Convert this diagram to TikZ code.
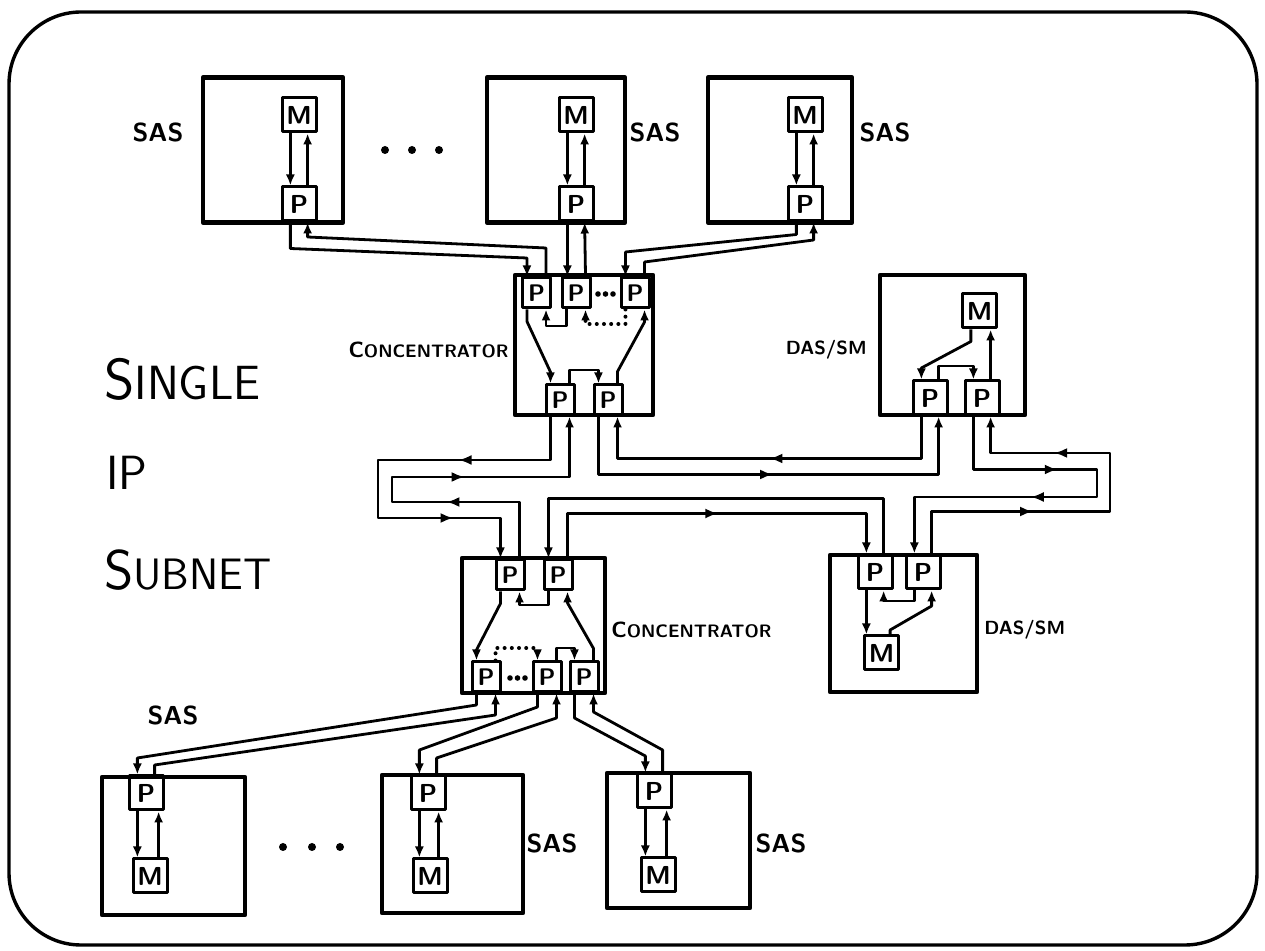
\documentclass[tikz,border=0pt]{standalone}
\usetikzlibrary{arrows.meta,decorations.markings}

\newcommand{\conclabel}{{\fontsize{11}{11}\selectfont C}{\fontsize{9}{9}\selectfont ONCENTRATOR}}

\begin{document}
\begin{tikzpicture}[x=0.5pt, y=-0.5pt, line join=round,
    stationbox/.style={draw=inkColour, line width=2.3pt, inner sep=0pt},
    unit/.style={draw=inkColour, line width=1.5pt, inner sep=0pt, minimum width=17pt, minimum height=17pt, font=\fontsize{13}{13}\selectfont\sffamily\bfseries},
    port/.style={unit, minimum width=14pt, minimum height=15pt, font=\fontsize{12}{12}\selectfont\sffamily\bfseries},
    tag/.style={inner sep=1pt, font=\fontsize{13}{13}\selectfont\sffamily\bfseries},
    bigtext/.style={inner sep=0pt, anchor=base west, font=\sffamily},
    link/.style={draw=inkColour, line width=1.4pt, -{Latex[length=5.5pt,width=4.5pt]}},
    dotlink/.style={link, line cap=round, dash pattern=on 0pt off 3.6pt, line width=2pt},
    midarrow/.style={postaction={decorate, decoration={markings, mark=at position #1 with {\arrow{Latex[length=6.5pt,width=5pt]}}}}}]

    % Define colours
    \definecolor{inkColour}{HTML}{000000}

    % Fix the picture size
    \useasboundingbox (0,0) rectangle (1265,951);

    % Draw outer frame
    \draw[inkColour, line width=1.7pt, rounded corners=36pt] (9,12) rectangle (1257,945);

    % Single IP subnet title
    \node[bigtext] (title1) at (104,400) {{\fontsize{29}{29}\selectfont S}{\fontsize{24}{24}\selectfont INGLE}};
    \node[bigtext] (title2) at (106,490) {\fontsize{24}{24}\selectfont IP};
    \node[bigtext] (title3) at (104,590) {{\fontsize{28}{28}\selectfont S}{\fontsize{22}{22}\selectfont UBNET}};

    % Top stations
    \node[stationbox, minimum width=70pt, minimum height=72.5pt] (sasA) at (273,150) {};
    \node[stationbox, minimum width=69pt, minimum height=72.5pt] (sasB) at (556,150) {};
    \node[stationbox, minimum width=72pt, minimum height=72.5pt] (sasC) at (780,150) {};
    \node[unit] (mA) at (299,115) {M};
    \node[unit] (pA) at (299,204) {P};
    \node[unit] (mB) at (576,115) {M};
    \node[unit] (pB) at (576,204) {P};
    \node[unit] (mC) at (805,115) {M};
    \node[unit] (pC) at (805,204) {P};
    \node[tag] (tA) at (158,132) {SAS};
    \node[tag] (tB) at (655,132) {SAS};
    \node[tag] (tC) at (885,132) {SAS};
    \foreach \x in {385,412,439}
        \fill[inkColour] (\x,150) circle[radius=2pt];

    % Top concentrator
    \node[stationbox, minimum width=69pt, minimum height=70pt] (conA) at (584,345) {};
    \node[port] (c1) at (536.5,293) {P};
    \node[port] (c2) at (576,293) {P};
    \node[port] (c3) at (635,293) {P};
    \node[port] (c4) at (560,400) {P};
    \node[port] (c5) at (608,400) {P};
    \foreach \x in {598,605.5,613}
        \fill[inkColour] (\x,294) circle[radius=1.4pt];
    \node[tag, anchor=east] (tConA) at (511,350) {\conclabel};

    % Top dual attached station
    \node[stationbox, minimum width=72.5pt, minimum height=70pt] (dasA) at (952.5,345) {};
    \node[unit] (mG) at (979.5,311) {M};
    \node[unit] (d1) at (930,398) {P};
    \node[unit] (d2) at (982,398) {P};
    \node[tag, anchor=east, font=\fontsize{9.5}{9.5}\selectfont\sffamily\bfseries] (tDasA) at (869,350) {DAS/SM};

    % Lower concentrator
    \node[stationbox, minimum width=71.5pt, minimum height=67.5pt] (conB) at (533.5,625.5) {};
    \node[port] (c6) at (510,575) {P};
    \node[port] (c7) at (558,575) {P};
    \node[port] (c8) at (486,677) {P};
    \node[port] (c9) at (547,677) {P};
    \node[port] (c10) at (584,677) {P};
    \foreach \x in {510,517.5,525}
        \fill[inkColour] (\x,678) circle[radius=1.4pt];
    \node[tag, anchor=west] (tConB) at (609,630) {\conclabel};

    % Lower dual attached station
    \node[stationbox, minimum width=73.5pt, minimum height=68.5pt] (dasB) at (903.5,623.5) {};
    \node[unit] (e1) at (875,572) {P};
    \node[unit] (e2) at (923,572) {P};
    \node[unit] (mH) at (881.5,653) {M};
    \node[tag, anchor=west, font=\fontsize{9.5}{9.5}\selectfont\sffamily\bfseries] (tDasB) at (982,630) {DAS/SM};

    % Bottom stations
    \node[stationbox, minimum width=71.5pt, minimum height=69pt] (sasD) at (173.5,846) {};
    \node[stationbox, minimum width=70.5pt, minimum height=69pt] (sasE) at (452.5,844) {};
    \node[stationbox, minimum width=71.5pt, minimum height=67.5pt] (sasF) at (678.5,840.5) {};
    \node[unit] (pD) at (146,793) {P};
    \node[unit] (mD) at (150,876) {M};
    \node[unit] (pE) at (428,793) {P};
    \node[unit] (mE) at (430,876) {M};
    \node[unit] (pF) at (654,791) {P};
    \node[unit] (mF) at (658,875) {M};
    \node[tag] (tD) at (173,715) {SAS};
    \node[tag] (tE) at (552,843) {SAS};
    \node[tag] (tF) at (781,843) {SAS};
    \foreach \x in {283,312,340}
        \fill[inkColour] (\x,847) circle[radius=2pt];

    % Links inside the single attached stations
    \foreach \s in {A,B,C} {
        \draw[link] (m\s.-115) -- (m\s.-115 |- p\s.north);
        \draw[link] (p\s.65) -- (p\s.65 |- m\s.south);
    }
    \foreach \s in {D,E,F} {
        \draw[link] (p\s.-115) -- (p\s.-115 |- m\s.north);
        \draw[link] (m\s.65) -- (m\s.65 |- p\s.south);
    }

    % Top stations to top concentrator
    \draw[link] (pA.-115) -- ++(0,26) -- (c1.120 |- 0,258) -- (c1.120);
    \draw[link] (c1.60) -- (c1.60 |- 0,248) -- (pA.-65 |- 0,237) -- (pA.-65);
    \draw[link] (pB.-115) -- (pB.-115 |- c2.north);
    \draw[link] (c2.60) -- (pB.-65);
    \draw[link] (pC.-115) -- ++(0,12) -- (c3.120 |- 0,252) -- (c3.120);
    \draw[link] (c3.60) -- (c3.60 |- 0,262) -- (pC.-65 |- 0,240) -- (pC.-65);

    % Inside the top concentrator
    \draw[link] (c1.-120) -- ++(0,12) -- (c4.120 |- 0,372) -- (c4.120);
    \draw[link] (c2.-120) -- (c2.-120 |- 0,326) -| (c1.-60);
    \draw[dotlink] (c3.-120) -- (c3.-120 |- 0,324) -| (c2.-60);
    \draw[link] (c5.60) -- ++(0,-12) -- (c3.-60 |- 0,322) -- (c3.-60);
    \draw[link] (c4.60) -- (c4.60 |- 0,370) -| (c5.120);

    % Inside the top dual attached station
    \draw[link] (mG.-115) -- ++(0,12) -- (d1.115 |- 0,368) -- (d1.115);
    \draw[link] (d1.65) -- (d1.65 |- 0,366) -| (d2.115);
    \draw[link] (d2.65) -- (d2.65 |- mG.south);

    % Inside the lower concentrator
    \draw[link] (c6.-120) -- ++(0,12) -- (c8.120 |- 0,650) -- (c8.120);
    \draw[link] (c7.-120) -- (c7.-120 |- 0,605) -| (c6.-60);
    \draw[dotlink] (c8.60) -- (c8.60 |- 0,648) -| (c9.120);
    \draw[link] (c9.60) -- (c9.60 |- 0,648) -| (c10.120);
    \draw[link] (c10.60) -- ++(0,-12) -- (c7.-60 |- 0,603) -- (c7.-60);

    % Inside the lower dual attached station
    \draw[link] (e1.-115) -- (e1.-115 |- mH.north);
    \draw[link] (e2.-115) -- (e2.-115 |- 0,601) -| (e1.-65);
    \draw[link] (mH.65) -- (mH.65 |- 0,630) -- (e2.-65 |- 0,606) -- (e2.-65);

    % Lower concentrator to bottom stations
    \draw[link] (c8.-120) -- (c8.-120 |- 0,705) -- (pD.115 |- 0,758) -- (pD.115);
    \draw[link] (pD.65) -- (pD.65 |- 0,765) -- (c8.-60 |- 0,715) -- (c8.-60);
    \draw[link] (c9.-120) -- (c9.-120 |- 0,707) -- (pE.115 |- 0,750) -- (pE.115);
    \draw[link] (pE.65) -- (pE.65 |- 0,758) -- (c9.-60 |- 0,718) -- (c9.-60);
    \draw[link] (c10.-120) -- (c10.-120 |- 0,718) -- (pF.115 |- 0,756) -- (pF.115);
    \draw[link] (pF.65) -- (pF.65 |- 0,750) -- (c10.-60 |- 0,712) -- (c10.-60);

    % Dual ring between concentrators and dual attached stations
    \draw[link, midarrow=0.31, midarrow=0.8] (c4.-120) |- (378,460) -- (378,518) -| (c6.120);
    \draw[link, midarrow=0.29, midarrow=0.63] (c6.60) |- (392,502) -- (392,477) -| (c4.-60);
    \draw[link, midarrow=0.51] (c5.-120) -- ++(0,58) -| (d1.-65);
    \draw[link, midarrow=0.5] (d1.-115) -- ++(0,42) -| (c5.-60);
    \draw[link, midarrow=0.31, midarrow=0.61] (d2.-115) -- ++(0,53) -| (1097,497) -| (e2.115);
    \draw[link, midarrow=0.33, midarrow=0.77] (e2.65) -- ++(0,-42) -| (1110,453) -| (d2.-65);
    \draw[link] (e1.65) -- ++(0,-55) -| (c7.120);
    \draw[link, midarrow=0.51] (c7.60) -- ++(0,-45) -| (e1.115);

\end{tikzpicture}
\end{document}
